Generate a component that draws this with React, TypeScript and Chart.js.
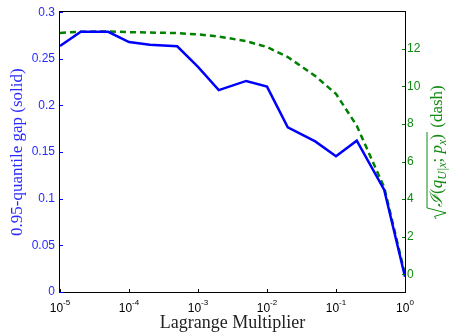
import { useEffect, useRef } from 'react';
import { Chart, registerables } from 'chart.js';

Chart.register(...registerables);

const lambdas = [1e-5, 2e-5, 5e-5, 1e-4, 2e-4, 5e-4, 1e-3, 2e-3, 5e-3, 1e-2, 2e-2, 5e-2, 1e-1, 2e-1, 5e-1, 1];
const quantileGap = [0.2637, 0.279, 0.279, 0.268, 0.265, 0.2634, 0.2413, 0.2164, 0.2263, 0.2202, 0.1765, 0.1615, 0.1455, 0.1623, 0.1094, 0.0163];
const sqrtInfo = [12.83, 12.89, 12.91, 12.87, 12.85, 12.82, 12.75, 12.64, 12.39, 12.08, 11.55, 10.54, 9.59, 7.9, 4.62, 0.0];

const xTicks = [1e-5, 1e-4, 1e-3, 1e-2, 1e-1, 1];
const xTickExponents = ['-5', '-4', '-3', '-2', '-1', '0'];
const leftTicks = [0, 0.05, 0.1, 0.15, 0.2, 0.25, 0.3];
const rightTicks = [0, 2, 4, 6, 8, 10, 12];

const xTitle = 'Lagrange Multiplier';
const leftTitle = '0.95-quantile gap (solid)';

const BLUE = '#0000ff';
const BLUE_TEXT = '#2a2aff';
const GREEN = '#008000';
const GREEN_TEXT = '#118a11';
const SANS = '"Liberation Sans", Arial, Helvetica, sans-serif';
const SERIF = '"Liberation Serif", "DejaVu Serif", serif';

const decorPlugin = {
  id: 'decor',
  afterDraw(chart: any) {
    const ctx = chart.ctx as CanvasRenderingContext2D;
    const { left, right, top, bottom } = chart.chartArea;
    const xs = chart.scales.x;
    const yl = chart.scales.y;
    const yr = chart.scales.y2;
    ctx.save();

    // frame
    ctx.strokeStyle = '#000';
    ctx.lineWidth = 1;
    ctx.strokeRect(Math.round(left) - 0.5, Math.round(top) - 0.5, Math.round(right - left) + 1, Math.round(bottom - top) + 1);

    // x ticks (inward)
    ctx.beginPath();
    xTicks.forEach((v) => {
      const px = Math.round(xs.getPixelForValue(v)) + 0.5;
      ctx.moveTo(px, bottom);
      ctx.lineTo(px, bottom - 3);
    });
    ctx.stroke();

    // left ticks
    ctx.strokeStyle = BLUE;
    ctx.beginPath();
    leftTicks.forEach((v) => {
      const py = Math.round(yl.getPixelForValue(v)) + 0.5;
      ctx.moveTo(left, py);
      ctx.lineTo(left + 3, py);
    });
    ctx.stroke();

    // right ticks
    ctx.strokeStyle = GREEN;
    ctx.beginPath();
    rightTicks.forEach((v) => {
      const py = Math.round(yr.getPixelForValue(v)) + 0.5;
      ctx.moveTo(right, py);
      ctx.lineTo(right - 3, py);
    });
    ctx.stroke();

    // x tick labels with superscripts
    ctx.fillStyle = '#000';
    ctx.textBaseline = 'alphabetic';
    ctx.textAlign = 'left';
    xTicks.forEach((v, i) => {
      const px = xs.getPixelForValue(v);
      ctx.font = `12px ${SANS}`;
      const wb = ctx.measureText('10').width;
      ctx.font = `8px ${SANS}`;
      const we = ctx.measureText(xTickExponents[i]).width;
      const x0 = px - (wb + we) / 2;
      ctx.font = `12px ${SANS}`;
      ctx.fillText('10', x0, 312);
      ctx.font = `8px ${SANS}`;
      ctx.fillText(xTickExponents[i], x0 + wb, 305);
    });

    // x title
    ctx.font = `18px ${SERIF}`;
    ctx.textAlign = 'center';
    ctx.fillStyle = '#222';
    ctx.fillText(xTitle, (left + right) / 2, 328);

    // left title
    ctx.save();
    ctx.translate(18, (top + bottom) / 2);
    ctx.rotate(-Math.PI / 2);
    ctx.font = `17px ${SERIF}`;
    ctx.fillStyle = BLUE_TEXT;
    ctx.textAlign = 'center';
    ctx.textBaseline = 'middle';
    ctx.fillText(leftTitle, 0, 0);
    ctx.restore();

    // right title: sqrt(I(q_{U|x}; p_x)) (dash)
    const pieces: { t: string; font: string; dy: number }[] = [
      { t: 'ℐ', font: `italic 17px ${SERIF}`, dy: 0 },
      { t: '(', font: `17px ${SERIF}`, dy: 0 },
      { t: 'q', font: `italic 17px ${SERIF}`, dy: 0 },
      { t: 'U|x', font: `italic 12px ${SERIF}`, dy: 4 },
      { t: '; ', font: `17px ${SERIF}`, dy: 0 },
      { t: 'p', font: `italic 17px ${SERIF}`, dy: 0 },
      { t: 'x', font: `italic 12px ${SERIF}`, dy: 4 },
      { t: ')', font: `17px ${SERIF}`, dy: 0 },
    ];
    const tail = { t: ' (dash)', font: `17px ${SERIF}` };
    const radW = 12;
    let inner = 0;
    pieces.forEach((p) => {
      ctx.font = p.font;
      inner += ctx.measureText(p.t).width;
    });
    ctx.font = tail.font;
    const tailW = ctx.measureText(tail.t).width;
    const total = radW + inner + 2 + tailW;
    ctx.save();
    ctx.translate(437, (top + bottom) / 2);
    ctx.rotate(-Math.PI / 2);
    ctx.fillStyle = GREEN_TEXT;
    ctx.strokeStyle = GREEN_TEXT;
    ctx.textAlign = 'left';
    ctx.textBaseline = 'alphabetic';
    const b = 5;
    let x = -total / 2;
    // radical sign
    ctx.lineWidth = 1;
    ctx.beginPath();
    ctx.moveTo(x, b - 6);
    ctx.lineTo(x + 2.5, b - 7.5);
    ctx.lineTo(x + 6, b + 4);
    ctx.lineTo(x + radW - 1, b - 15);
    ctx.lineTo(x + radW + inner + 2, b - 15);
    ctx.stroke();
    x += radW;
    pieces.forEach((p) => {
      ctx.font = p.font;
      ctx.fillText(p.t, x, b + p.dy);
      x += ctx.measureText(p.t).width;
    });
    x += 2;
    ctx.font = tail.font;
    ctx.fillText(tail.t, x, b);
    ctx.restore();

    ctx.restore();
  },
};

export default function App() {
  const ref = useRef<HTMLCanvasElement | null>(null);

  useEffect(() => {
    document.body.style.margin = '0';
    const canvas = ref.current;
    if (!canvas) return;
    const chart = new Chart(canvas, {
      type: 'line',
      data: {
        labels: lambdas,
        datasets: [
          {
            label: 'gap',
            data: lambdas.map((l, i) => ({ x: l, y: quantileGap[i] })),
            yAxisID: 'y',
            borderColor: BLUE,
            borderWidth: 2.5,
            pointRadius: 0,
            tension: 0,
            fill: false,
          },
          {
            label: 'info',
            data: lambdas.map((l, i) => ({ x: l, y: sqrtInfo[i] })),
            yAxisID: 'y2',
            borderColor: GREEN,
            borderWidth: 2.5,
            borderDash: [6, 4],
            pointRadius: 0,
            tension: 0,
            fill: false,
          },
        ],
      },
      options: {
        animation: false,
        responsive: false,
        maintainAspectRatio: false,
        layout: { padding: { top: 12, left: 0, right: 0, bottom: 0 } },
        plugins: { legend: { display: false }, tooltip: { enabled: false }, title: { display: false } },
        scales: {
          x: {
            type: 'logarithmic',
            min: 1e-5,
            max: 1,
            afterBuildTicks: (s: any) => {
              s.ticks = xTicks.map((v) => ({ value: v }));
            },
            ticks: { display: false },
            grid: { display: false, drawTicks: false },
            border: { display: false },
            afterFit: (s: any) => {
              s.height = 40;
            },
          },
          y: {
            type: 'linear',
            position: 'left',
            min: 0,
            max: 0.3,
            afterBuildTicks: (s: any) => {
              s.ticks = leftTicks.map((v) => ({ value: v }));
            },
            ticks: {
              color: BLUE_TEXT,
              font: { family: SANS, size: 12 },
              padding: 5,
              callback: (v: any) => String(+Number(v).toFixed(2)),
            },
            grid: { display: false, drawTicks: false },
            border: { display: false },
            afterFit: (s: any) => {
              s.width = 60;
            },
          },
          y2: {
            type: 'linear',
            position: 'right',
            min: -0.93,
            max: 13.93,
            afterBuildTicks: (s: any) => {
              s.ticks = rightTicks.map((v) => ({ value: v }));
            },
            ticks: {
              color: GREEN_TEXT,
              font: { family: SANS, size: 12 },
              padding: 2,
              callback: (v: any) => String(v),
            },
            grid: { display: false, drawTicks: false },
            border: { display: false },
            afterFit: (s: any) => {
              s.width = 45;
            },
          },
        },
      },
      plugins: [decorPlugin],
    });
    return () => chart.destroy();
  }, []);

  return (
    <div style={{ position: 'fixed', left: 0, top: 0, width: 450, height: 332, background: '#fff' }}>
      <canvas ref={ref} width={450} height={332} style={{ display: 'block' }} />
    </div>
  );
}
